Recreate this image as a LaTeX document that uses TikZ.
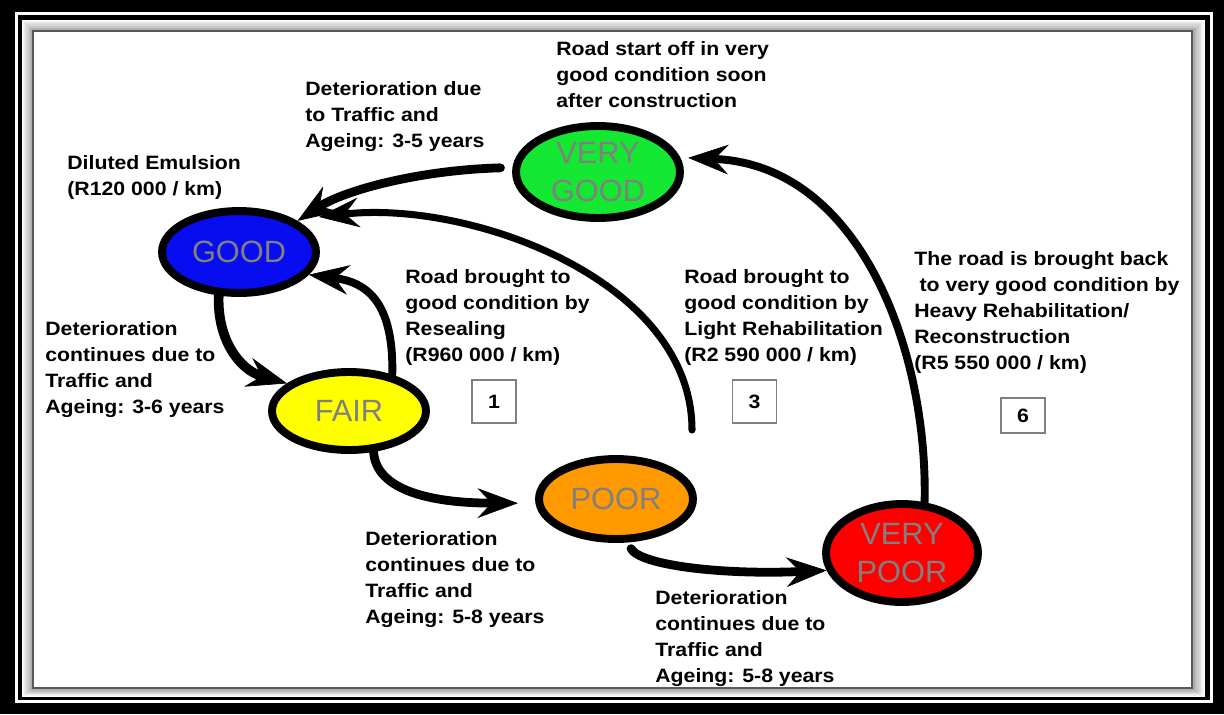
\documentclass[tikz,border=0pt]{standalone}
\usepackage{fontspec}
\setmainfont{Liberation Sans}
\newfontfamily\labfont[FakeStretch=1.1]{Liberation Sans}
\newfontfamily\stfont{Liberation Sans}
\usetikzlibrary{arrows.meta,shapes.geometric}
\definecolor{vgreen}{RGB}{20,232,50}
\definecolor{sblue}{RGB}{8,12,240}
\definecolor{syellow}{RGB}{255,255,0}
\definecolor{sorange}{RGB}{255,153,0}
\definecolor{sred}{RGB}{255,0,0}
\tikzset{
  state/.style={ellipse, draw=black, line width=4.5pt, inner sep=0pt, text=black!50,
    font=\stfont\fontsize{17.5pt}{21.5pt}\selectfont, align=center},
  lab/.style={anchor=north west, inner sep=0pt, align=left,
    font=\labfont\bfseries\fontsize{11pt}{14.75pt}\selectfont},
  numbox/.style={draw=black!50, line width=0.7pt, minimum width=0.88cm, minimum height=0.86cm,
    inner sep=0pt, font=\labfont\bfseries\fontsize{11pt}{13pt}\selectfont},
  conn/.style={draw=black, line cap=round,
    -{Stealth[length=23pt,width=17pt,inset=8pt,line width=0.4pt]}},
}
\begin{document}
\begin{tikzpicture}[x=0.02cm,y=-0.02cm]
\useasboundingbox (0,0) rectangle (1224,714);
% frame
\fill[black] (0,0) rectangle (1224,714);
\draw[white, line width=1.7pt] (16.5,13.5) rectangle (1211.5,701.5);
\foreach \i in {0,...,10}{
  \pgfmathtruncatemacro\c{4*\i}
  \fill[black!\c] (22+\i*1.1,20+\i*1.1) rectangle (1205-\i*1.3,697-\i*0.9);
}
\fill[white] (33,31) rectangle (1192,688);
\draw[black!65, line width=0.8pt] (33,31) rectangle (1192,688);

% states
\node[state, fill=vgreen, minimum width=3.28cm, minimum height=1.84cm] (vg) at (598,172) {VERY\\GOOD};
\node[state, fill=sblue, minimum width=3.08cm, minimum height=1.64cm] (good) at (239,252) {GOOD};
\node[state, fill=syellow, minimum width=3.08cm, minimum height=1.56cm] (fair) at (349,411) {FAIR};
\node[state, fill=sorange, minimum width=3.08cm, minimum height=1.6cm] (poor) at (616,499) {POOR};
\node[state, fill=sred, minimum width=3.04cm, minimum height=1.96cm] (vp) at (902,553) {VERY\\POOR};

% labels
\node[lab] (t1) at (556,41) {Road start off in very\\good condition soon\\after construction};
\node[lab] (t2) at (305,81) {Deterioration due\\to Traffic and\\Ageing: 3-5 years};
\node[lab] (t3) at (67,155) {Diluted Emulsion\\(R120 000 / km)};
\node[lab] (t4) at (45,321) {Deterioration\\continues due to\\Traffic and\\Ageing: 3-6 years};
\node[lab] (t5) at (405,269) {Road brought to\\good condition by\\Resealing\\(R960 000 / km)};
\node[lab] (t6) at (684,269) {Road brought to\\good condition by\\Light Rehabilitation\\(R2 590 000 / km)};
\node[lab] (t7) at (914,251) {The road is brought back\\\hspace*{3pt}to very good condition by\\Heavy Rehabilitation/\\Reconstruction\\(R5 550 000 / km)};
\node[lab] (t8) at (365,531) {Deterioration\\continues due to\\Traffic and\\Ageing: 5-8 years};
\node[lab] (t9) at (655,590) {Deterioration\\continues due to\\Traffic and\\Ageing: 5-8 years};

% number boxes
\node[numbox] (n1) at (494,401.5) {1};
\node[numbox] (n3) at (754.5,401.5) {3};
\node[numbox, minimum height=0.70cm] (n6) at (1023,415.5) {6};

% connectors
\coordinate (bstart) at (692,430);
\draw[conn, line width=5pt, shorten <=6.8pt] (vg.177) .. controls (420,170) and (345,190) .. (good.28);
\draw[conn, line width=4pt, shorten >=13.6pt] (bstart) .. controls (692,280) and (470,200) .. (good.30);
\draw[conn, line width=4.5pt] (fair.40) .. controls (394,300) and (365,282) .. (good.-18);
\draw[conn, line width=5.5pt] (good.-115) .. controls (217,340) and (240,370) .. (fair.156);
\draw[conn, line width=5pt, shorten >=10pt] (fair.-59) .. controls (376,490) and (430,503) .. (poor.183);
\draw[conn, line width=5pt, shorten <=4pt] (poor.-75) .. controls (640,565) and (720,575) .. (vp.193);
\draw[conn, line width=4.5pt, shorten >=4.5pt] (vp.66) .. controls (928,350) and (860,165) .. (vg.10);
\end{tikzpicture}
\end{document}
